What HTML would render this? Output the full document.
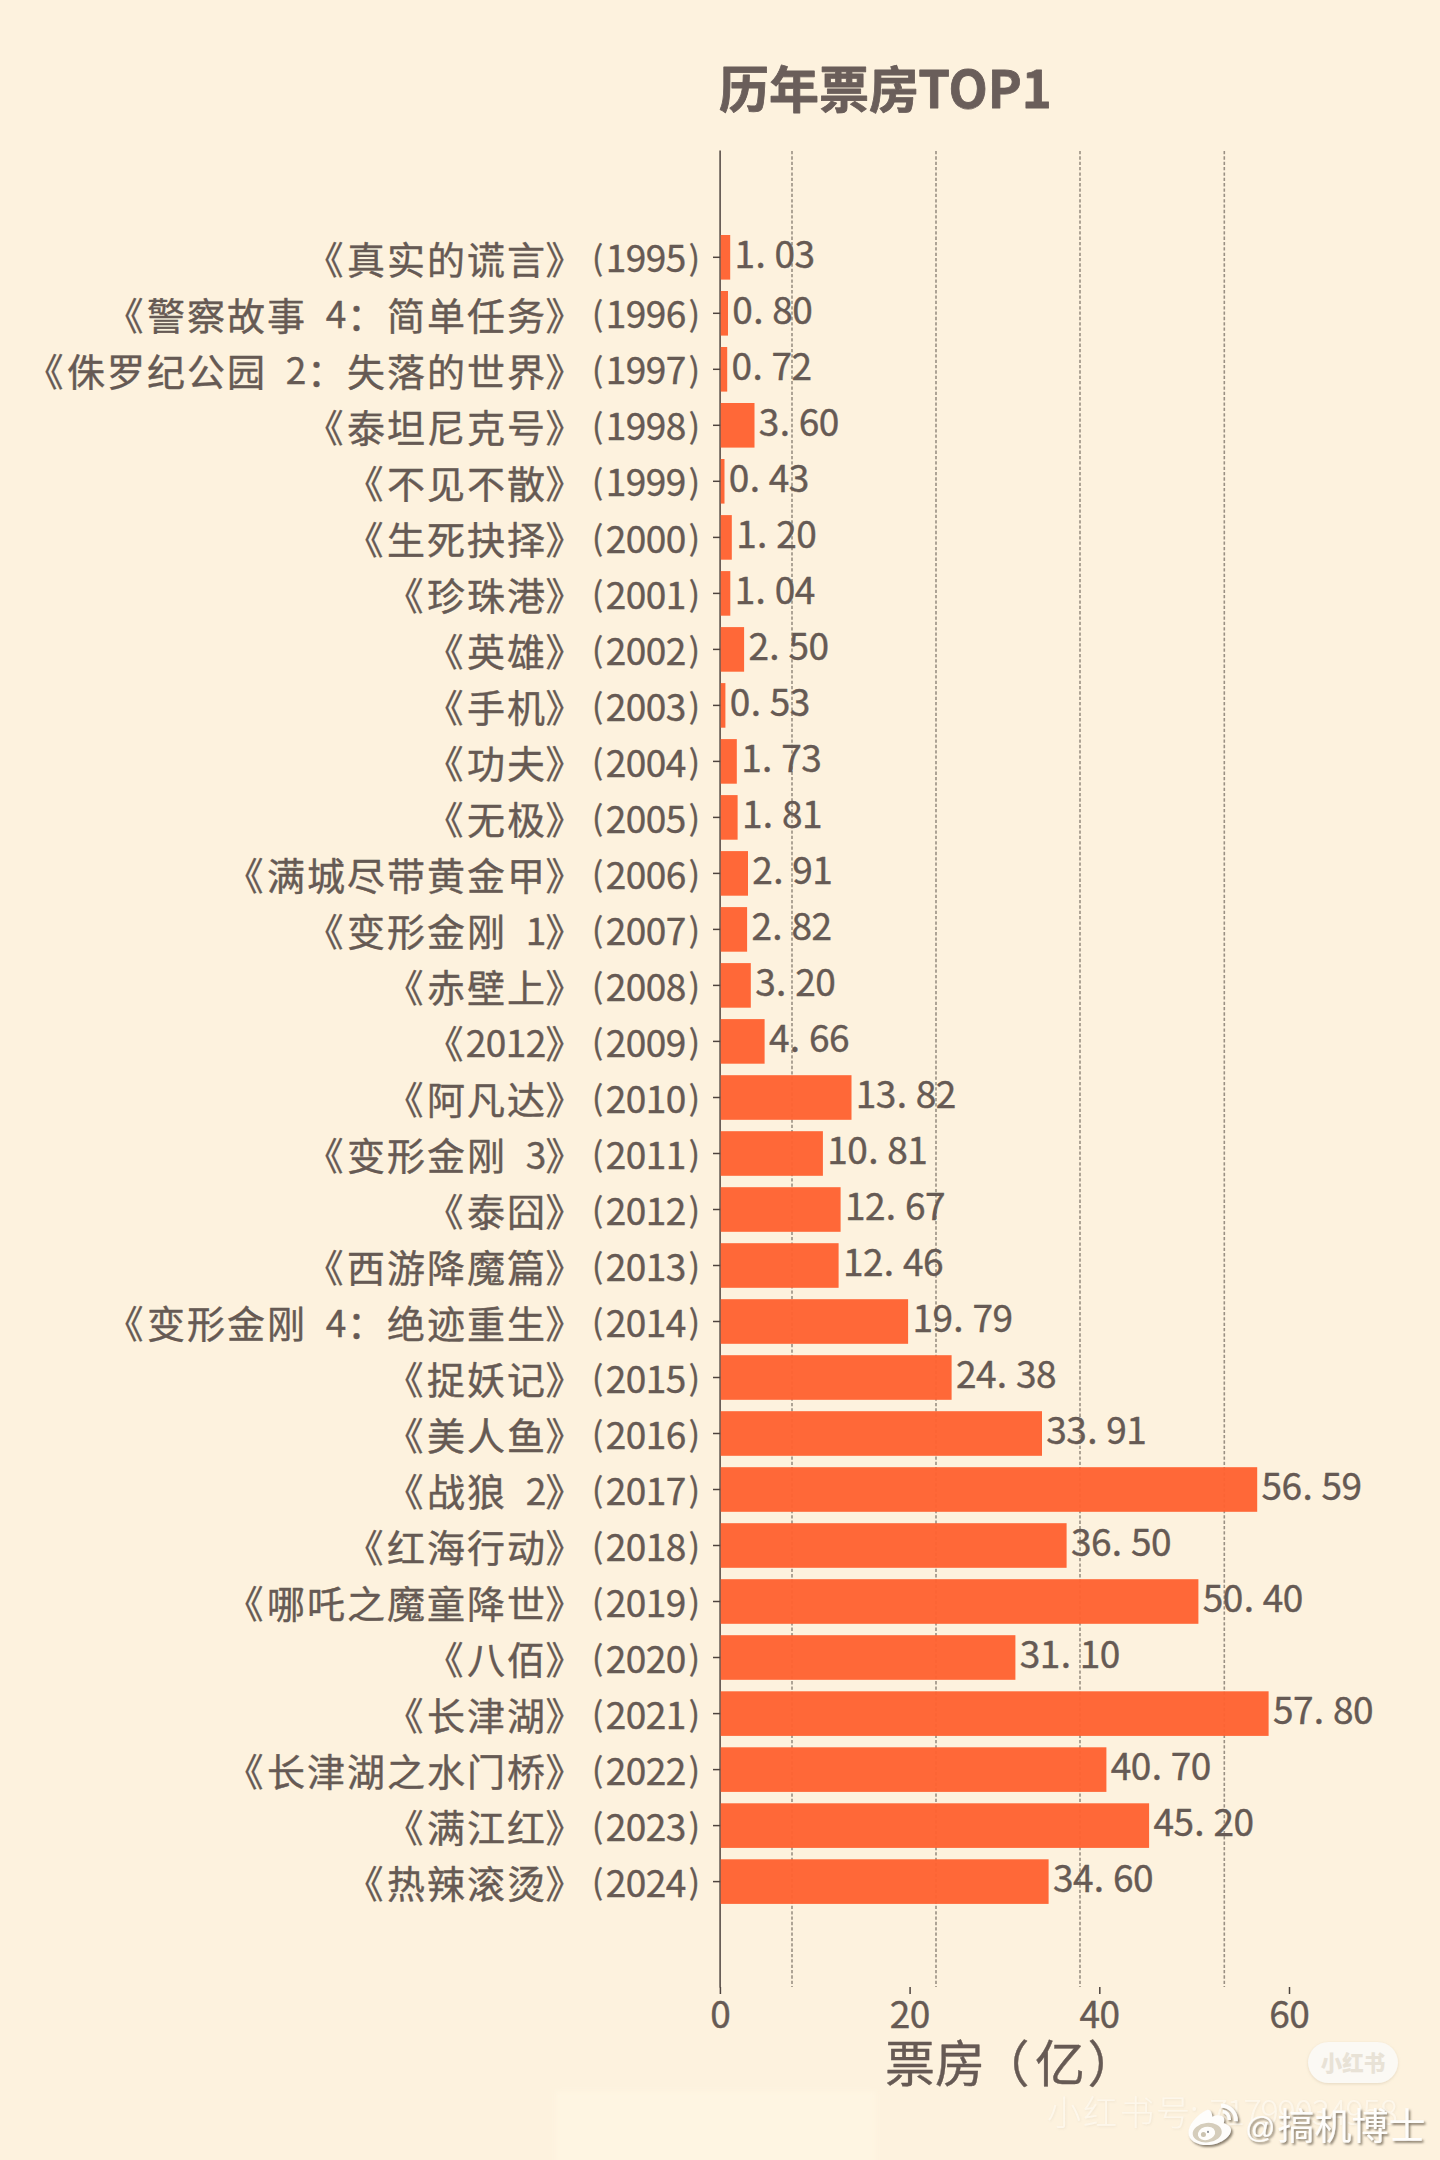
<!DOCTYPE html>
<html lang="zh-CN">
<head>
<meta charset="utf-8">
<title>历年票房TOP1</title>
<style>
html,body{margin:0;padding:0;background:#fdf2de;}
body{width:1440px;height:2160px;overflow:hidden;position:relative;}
svg{position:absolute;left:0;top:0;display:block;}
.t{font-family:"Noto Sans CJK SC","WenQuanYi Zen Hei",sans-serif;font-weight:400;}
.t .l{font-family:"Noto Sans CJK SC","Liberation Sans",sans-serif;}
.ttl{font-family:"Noto Sans CJK SC","Liberation Sans",sans-serif;}
.wm{font-family:"Noto Sans CJK SC","WenQuanYi Zen Hei",sans-serif;}
.wm .la{font-family:"Liberation Sans",sans-serif;font-weight:400;}
</style>
</head>
<body>
<svg width="1440" height="2160" viewBox="0 0 1440 2160">
<rect width="1440" height="2160" fill="#fdf2de"/>
<g stroke="#9a9083" stroke-width="1.6" stroke-dasharray="3.3 2.05">
<line x1="792.0" y1="151" x2="792.0" y2="1987"/>
<line x1="936.0" y1="151" x2="936.0" y2="1987"/>
<line x1="1080.0" y1="151" x2="1080.0" y2="1987"/>
<line x1="1224.3" y1="151" x2="1224.3" y2="1987"/>
</g>
<g stroke="#4e443f" stroke-width="1.5">
<line x1="720.1" y1="150.5" x2="720.1" y2="1987.5"/>
<line x1="713.0" y1="257.3" x2="720.4" y2="257.3"/>
<line x1="713.0" y1="313.3" x2="720.4" y2="313.3"/>
<line x1="713.0" y1="369.3" x2="720.4" y2="369.3"/>
<line x1="713.0" y1="425.3" x2="720.4" y2="425.3"/>
<line x1="713.0" y1="481.3" x2="720.4" y2="481.3"/>
<line x1="713.0" y1="537.4" x2="720.4" y2="537.4"/>
<line x1="713.0" y1="593.4" x2="720.4" y2="593.4"/>
<line x1="713.0" y1="649.4" x2="720.4" y2="649.4"/>
<line x1="713.0" y1="705.4" x2="720.4" y2="705.4"/>
<line x1="713.0" y1="761.4" x2="720.4" y2="761.4"/>
<line x1="713.0" y1="817.4" x2="720.4" y2="817.4"/>
<line x1="713.0" y1="873.4" x2="720.4" y2="873.4"/>
<line x1="713.0" y1="929.4" x2="720.4" y2="929.4"/>
<line x1="713.0" y1="985.4" x2="720.4" y2="985.4"/>
<line x1="713.0" y1="1041.4" x2="720.4" y2="1041.4"/>
<line x1="713.0" y1="1097.5" x2="720.4" y2="1097.5"/>
<line x1="713.0" y1="1153.5" x2="720.4" y2="1153.5"/>
<line x1="713.0" y1="1209.5" x2="720.4" y2="1209.5"/>
<line x1="713.0" y1="1265.5" x2="720.4" y2="1265.5"/>
<line x1="713.0" y1="1321.5" x2="720.4" y2="1321.5"/>
<line x1="713.0" y1="1377.5" x2="720.4" y2="1377.5"/>
<line x1="713.0" y1="1433.5" x2="720.4" y2="1433.5"/>
<line x1="713.0" y1="1489.5" x2="720.4" y2="1489.5"/>
<line x1="713.0" y1="1545.5" x2="720.4" y2="1545.5"/>
<line x1="713.0" y1="1601.5" x2="720.4" y2="1601.5"/>
<line x1="713.0" y1="1657.5" x2="720.4" y2="1657.5"/>
<line x1="713.0" y1="1713.6" x2="720.4" y2="1713.6"/>
<line x1="713.0" y1="1769.6" x2="720.4" y2="1769.6"/>
<line x1="713.0" y1="1825.6" x2="720.4" y2="1825.6"/>
<line x1="713.0" y1="1881.6" x2="720.4" y2="1881.6"/>
<line x1="720.4" y1="1987" x2="720.4" y2="1994"/>
<line x1="910.1" y1="1987" x2="910.1" y2="1994"/>
<line x1="1099.8" y1="1987" x2="1099.8" y2="1994"/>
<line x1="1289.5" y1="1987" x2="1289.5" y2="1994"/>
</g>
<g fill="#ff6231" fill-opacity="0.96">
<rect x="720.7" y="235.0" width="9.5" height="44.6"/>
<rect x="720.7" y="291.0" width="7.3" height="44.6"/>
<rect x="720.7" y="347.0" width="6.5" height="44.6"/>
<rect x="720.7" y="403.0" width="33.8" height="44.6"/>
<rect x="720.7" y="459.0" width="3.8" height="44.6"/>
<rect x="720.7" y="515.1" width="11.1" height="44.6"/>
<rect x="720.7" y="571.1" width="9.6" height="44.6"/>
<rect x="720.7" y="627.1" width="23.4" height="44.6"/>
<rect x="720.7" y="683.1" width="4.7" height="44.6"/>
<rect x="720.7" y="739.1" width="16.1" height="44.6"/>
<rect x="720.7" y="795.1" width="16.9" height="44.6"/>
<rect x="720.7" y="851.1" width="27.3" height="44.6"/>
<rect x="720.7" y="907.1" width="26.4" height="44.6"/>
<rect x="720.7" y="963.1" width="30.1" height="44.6"/>
<rect x="720.7" y="1019.1" width="43.9" height="44.6"/>
<rect x="720.7" y="1075.2" width="130.8" height="44.6"/>
<rect x="720.7" y="1131.2" width="102.2" height="44.6"/>
<rect x="720.7" y="1187.2" width="119.9" height="44.6"/>
<rect x="720.7" y="1243.2" width="117.9" height="44.6"/>
<rect x="720.7" y="1299.2" width="187.4" height="44.6"/>
<rect x="720.7" y="1355.2" width="230.9" height="44.6"/>
<rect x="720.7" y="1411.2" width="321.3" height="44.6"/>
<rect x="720.7" y="1467.2" width="536.5" height="44.6"/>
<rect x="720.7" y="1523.2" width="345.9" height="44.6"/>
<rect x="720.7" y="1579.2" width="477.7" height="44.6"/>
<rect x="720.7" y="1635.2" width="294.7" height="44.6"/>
<rect x="720.7" y="1691.3" width="547.9" height="44.6"/>
<rect x="720.7" y="1747.3" width="385.7" height="44.6"/>
<rect x="720.7" y="1803.3" width="428.4" height="44.6"/>
<rect x="720.7" y="1859.3" width="327.9" height="44.6"/>
</g>
<g class="t" text-anchor="middle" fill="#665a54" stroke="#665a54" stroke-width="0.4" stroke-linejoin="round">
<text x="324.5 366.0 406.0 446.0 486.0 526.0 564.5 597.6 616.0 636.0 656.0 676.0 694.4" y="273.5 273.5 273.5 273.5 273.5 273.5 273.5 269.5 272.4 272.4 272.4 272.4 269.5" font-size="38">《真实的谎言》<tspan class="l" font-size="33.2">(</tspan><tspan class="l" font-size="37">1995</tspan><tspan class="l" font-size="33.2">)</tspan></text>
<text x="124.5 166.0 206.0 246.0 286.0 316.0 336.0 366.0 406.0 446.0 486.0 526.0 564.5 597.6 616.0 636.0 656.0 676.0 694.4" y="329.5 329.5 329.5 329.5 329.5 328.4 328.4 329.5 329.5 329.5 329.5 329.5 329.5 325.5 328.4 328.4 328.4 328.4 325.5" font-size="38">《警察故事<tspan class="l" font-size="37"> 4</tspan>：简单任务》<tspan class="l" font-size="33.2">(</tspan><tspan class="l" font-size="37">1996</tspan><tspan class="l" font-size="33.2">)</tspan></text>
<text x="44.5 86.0 126.0 166.0 206.0 246.0 276.0 296.0 326.0 366.0 406.0 446.0 486.0 526.0 564.5 597.6 616.0 636.0 656.0 676.0 694.4" y="385.5 385.5 385.5 385.5 385.5 385.5 384.4 384.4 385.5 385.5 385.5 385.5 385.5 385.5 385.5 381.5 384.4 384.4 384.4 384.4 381.5" font-size="38">《侏罗纪公园<tspan class="l" font-size="37"> 2</tspan>：失落的世界》<tspan class="l" font-size="33.2">(</tspan><tspan class="l" font-size="37">1997</tspan><tspan class="l" font-size="33.2">)</tspan></text>
<text x="324.5 366.0 406.0 446.0 486.0 526.0 564.5 597.6 616.0 636.0 656.0 676.0 694.4" y="441.5 441.5 441.5 441.5 441.5 441.5 441.5 437.5 440.4 440.4 440.4 440.4 437.5" font-size="38">《泰坦尼克号》<tspan class="l" font-size="33.2">(</tspan><tspan class="l" font-size="37">1998</tspan><tspan class="l" font-size="33.2">)</tspan></text>
<text x="364.5 406.0 446.0 486.0 526.0 564.5 597.6 616.0 636.0 656.0 676.0 694.4" y="497.5 497.5 497.5 497.5 497.5 497.5 493.5 496.4 496.4 496.4 496.4 493.5" font-size="38">《不见不散》<tspan class="l" font-size="33.2">(</tspan><tspan class="l" font-size="37">1999</tspan><tspan class="l" font-size="33.2">)</tspan></text>
<text x="364.5 406.0 446.0 486.0 526.0 564.5 597.6 616.0 636.0 656.0 676.0 694.4" y="553.6 553.6 553.6 553.6 553.6 553.6 549.6 552.5 552.5 552.5 552.5 549.6" font-size="38">《生死抉择》<tspan class="l" font-size="33.2">(</tspan><tspan class="l" font-size="37">2000</tspan><tspan class="l" font-size="33.2">)</tspan></text>
<text x="404.5 446.0 486.0 526.0 564.5 597.6 616.0 636.0 656.0 676.0 694.4" y="609.6 609.6 609.6 609.6 609.6 605.6 608.5 608.5 608.5 608.5 605.6" font-size="38">《珍珠港》<tspan class="l" font-size="33.2">(</tspan><tspan class="l" font-size="37">2001</tspan><tspan class="l" font-size="33.2">)</tspan></text>
<text x="444.5 486.0 526.0 564.5 597.6 616.0 636.0 656.0 676.0 694.4" y="665.6 665.6 665.6 665.6 661.6 664.5 664.5 664.5 664.5 661.6" font-size="38">《英雄》<tspan class="l" font-size="33.2">(</tspan><tspan class="l" font-size="37">2002</tspan><tspan class="l" font-size="33.2">)</tspan></text>
<text x="444.5 486.0 526.0 564.5 597.6 616.0 636.0 656.0 676.0 694.4" y="721.6 721.6 721.6 721.6 717.6 720.5 720.5 720.5 720.5 717.6" font-size="38">《手机》<tspan class="l" font-size="33.2">(</tspan><tspan class="l" font-size="37">2003</tspan><tspan class="l" font-size="33.2">)</tspan></text>
<text x="444.5 486.0 526.0 564.5 597.6 616.0 636.0 656.0 676.0 694.4" y="777.6 777.6 777.6 777.6 773.6 776.5 776.5 776.5 776.5 773.6" font-size="38">《功夫》<tspan class="l" font-size="33.2">(</tspan><tspan class="l" font-size="37">2004</tspan><tspan class="l" font-size="33.2">)</tspan></text>
<text x="444.5 486.0 526.0 564.5 597.6 616.0 636.0 656.0 676.0 694.4" y="833.6 833.6 833.6 833.6 829.6 832.5 832.5 832.5 832.5 829.6" font-size="38">《无极》<tspan class="l" font-size="33.2">(</tspan><tspan class="l" font-size="37">2005</tspan><tspan class="l" font-size="33.2">)</tspan></text>
<text x="244.5 286.0 326.0 366.0 406.0 446.0 486.0 526.0 564.5 597.6 616.0 636.0 656.0 676.0 694.4" y="889.6 889.6 889.6 889.6 889.6 889.6 889.6 889.6 889.6 885.6 888.5 888.5 888.5 888.5 885.6" font-size="38">《满城尽带黄金甲》<tspan class="l" font-size="33.2">(</tspan><tspan class="l" font-size="37">2006</tspan><tspan class="l" font-size="33.2">)</tspan></text>
<text x="324.5 366.0 406.0 446.0 486.0 516.0 536.0 564.5 597.6 616.0 636.0 656.0 676.0 694.4" y="945.6 945.6 945.6 945.6 945.6 944.5 944.5 945.6 941.6 944.5 944.5 944.5 944.5 941.6" font-size="38">《变形金刚<tspan class="l" font-size="37"> 1</tspan>》<tspan class="l" font-size="33.2">(</tspan><tspan class="l" font-size="37">2007</tspan><tspan class="l" font-size="33.2">)</tspan></text>
<text x="404.5 446.0 486.0 526.0 564.5 597.6 616.0 636.0 656.0 676.0 694.4" y="1001.6 1001.6 1001.6 1001.6 1001.6 997.6 1000.5 1000.5 1000.5 1000.5 997.6" font-size="38">《赤壁上》<tspan class="l" font-size="33.2">(</tspan><tspan class="l" font-size="37">2008</tspan><tspan class="l" font-size="33.2">)</tspan></text>
<text x="444.5 476.0 496.0 516.0 536.0 564.5 597.6 616.0 636.0 656.0 676.0 694.4" y="1057.6 1056.5 1056.5 1056.5 1056.5 1057.6 1053.6 1056.5 1056.5 1056.5 1056.5 1053.6" font-size="38">《<tspan class="l" font-size="37">2012</tspan>》<tspan class="l" font-size="33.2">(</tspan><tspan class="l" font-size="37">2009</tspan><tspan class="l" font-size="33.2">)</tspan></text>
<text x="404.5 446.0 486.0 526.0 564.5 597.6 616.0 636.0 656.0 676.0 694.4" y="1113.7 1113.7 1113.7 1113.7 1113.7 1109.6 1112.5 1112.5 1112.5 1112.5 1109.6" font-size="38">《阿凡达》<tspan class="l" font-size="33.2">(</tspan><tspan class="l" font-size="37">2010</tspan><tspan class="l" font-size="33.2">)</tspan></text>
<text x="324.5 366.0 406.0 446.0 486.0 516.0 536.0 564.5 597.6 616.0 636.0 656.0 676.0 694.4" y="1169.7 1169.7 1169.7 1169.7 1169.7 1168.6 1168.6 1169.7 1165.7 1168.6 1168.6 1168.6 1168.6 1165.7" font-size="38">《变形金刚<tspan class="l" font-size="37"> 3</tspan>》<tspan class="l" font-size="33.2">(</tspan><tspan class="l" font-size="37">2011</tspan><tspan class="l" font-size="33.2">)</tspan></text>
<text x="444.5 486.0 526.0 564.5 597.6 616.0 636.0 656.0 676.0 694.4" y="1225.7 1225.7 1225.7 1225.7 1221.7 1224.6 1224.6 1224.6 1224.6 1221.7" font-size="38">《泰囧》<tspan class="l" font-size="33.2">(</tspan><tspan class="l" font-size="37">2012</tspan><tspan class="l" font-size="33.2">)</tspan></text>
<text x="324.5 366.0 406.0 446.0 486.0 526.0 564.5 597.6 616.0 636.0 656.0 676.0 694.4" y="1281.7 1281.7 1281.7 1281.7 1281.7 1281.7 1281.7 1277.7 1280.6 1280.6 1280.6 1280.6 1277.7" font-size="38">《西游降魔篇》<tspan class="l" font-size="33.2">(</tspan><tspan class="l" font-size="37">2013</tspan><tspan class="l" font-size="33.2">)</tspan></text>
<text x="124.5 166.0 206.0 246.0 286.0 316.0 336.0 366.0 406.0 446.0 486.0 526.0 564.5 597.6 616.0 636.0 656.0 676.0 694.4" y="1337.7 1337.7 1337.7 1337.7 1337.7 1336.6 1336.6 1337.7 1337.7 1337.7 1337.7 1337.7 1337.7 1333.7 1336.6 1336.6 1336.6 1336.6 1333.7" font-size="38">《变形金刚<tspan class="l" font-size="37"> 4</tspan>：绝迹重生》<tspan class="l" font-size="33.2">(</tspan><tspan class="l" font-size="37">2014</tspan><tspan class="l" font-size="33.2">)</tspan></text>
<text x="404.5 446.0 486.0 526.0 564.5 597.6 616.0 636.0 656.0 676.0 694.4" y="1393.7 1393.7 1393.7 1393.7 1393.7 1389.7 1392.6 1392.6 1392.6 1392.6 1389.7" font-size="38">《捉妖记》<tspan class="l" font-size="33.2">(</tspan><tspan class="l" font-size="37">2015</tspan><tspan class="l" font-size="33.2">)</tspan></text>
<text x="404.5 446.0 486.0 526.0 564.5 597.6 616.0 636.0 656.0 676.0 694.4" y="1449.7 1449.7 1449.7 1449.7 1449.7 1445.7 1448.6 1448.6 1448.6 1448.6 1445.7" font-size="38">《美人鱼》<tspan class="l" font-size="33.2">(</tspan><tspan class="l" font-size="37">2016</tspan><tspan class="l" font-size="33.2">)</tspan></text>
<text x="404.5 446.0 486.0 516.0 536.0 564.5 597.6 616.0 636.0 656.0 676.0 694.4" y="1505.7 1505.7 1505.7 1504.6 1504.6 1505.7 1501.7 1504.6 1504.6 1504.6 1504.6 1501.7" font-size="38">《战狼<tspan class="l" font-size="37"> 2</tspan>》<tspan class="l" font-size="33.2">(</tspan><tspan class="l" font-size="37">2017</tspan><tspan class="l" font-size="33.2">)</tspan></text>
<text x="364.5 406.0 446.0 486.0 526.0 564.5 597.6 616.0 636.0 656.0 676.0 694.4" y="1561.7 1561.7 1561.7 1561.7 1561.7 1561.7 1557.7 1560.6 1560.6 1560.6 1560.6 1557.7" font-size="38">《红海行动》<tspan class="l" font-size="33.2">(</tspan><tspan class="l" font-size="37">2018</tspan><tspan class="l" font-size="33.2">)</tspan></text>
<text x="244.5 286.0 326.0 366.0 406.0 446.0 486.0 526.0 564.5 597.6 616.0 636.0 656.0 676.0 694.4" y="1617.7 1617.7 1617.7 1617.7 1617.7 1617.7 1617.7 1617.7 1617.7 1613.7 1616.6 1616.6 1616.6 1616.6 1613.7" font-size="38">《哪吒之魔童降世》<tspan class="l" font-size="33.2">(</tspan><tspan class="l" font-size="37">2019</tspan><tspan class="l" font-size="33.2">)</tspan></text>
<text x="444.5 486.0 526.0 564.5 597.6 616.0 636.0 656.0 676.0 694.4" y="1673.8 1673.8 1673.8 1673.8 1669.7 1672.6 1672.6 1672.6 1672.6 1669.7" font-size="38">《八佰》<tspan class="l" font-size="33.2">(</tspan><tspan class="l" font-size="37">2020</tspan><tspan class="l" font-size="33.2">)</tspan></text>
<text x="404.5 446.0 486.0 526.0 564.5 597.6 616.0 636.0 656.0 676.0 694.4" y="1729.8 1729.8 1729.8 1729.8 1729.8 1725.8 1728.7 1728.7 1728.7 1728.7 1725.8" font-size="38">《长津湖》<tspan class="l" font-size="33.2">(</tspan><tspan class="l" font-size="37">2021</tspan><tspan class="l" font-size="33.2">)</tspan></text>
<text x="244.5 286.0 326.0 366.0 406.0 446.0 486.0 526.0 564.5 597.6 616.0 636.0 656.0 676.0 694.4" y="1785.8 1785.8 1785.8 1785.8 1785.8 1785.8 1785.8 1785.8 1785.8 1781.8 1784.7 1784.7 1784.7 1784.7 1781.8" font-size="38">《长津湖之水门桥》<tspan class="l" font-size="33.2">(</tspan><tspan class="l" font-size="37">2022</tspan><tspan class="l" font-size="33.2">)</tspan></text>
<text x="404.5 446.0 486.0 526.0 564.5 597.6 616.0 636.0 656.0 676.0 694.4" y="1841.8 1841.8 1841.8 1841.8 1841.8 1837.8 1840.7 1840.7 1840.7 1840.7 1837.8" font-size="38">《满江红》<tspan class="l" font-size="33.2">(</tspan><tspan class="l" font-size="37">2023</tspan><tspan class="l" font-size="33.2">)</tspan></text>
<text x="364.5 406.0 446.0 486.0 526.0 564.5 597.6 616.0 636.0 656.0 676.0 694.4" y="1897.8 1897.8 1897.8 1897.8 1897.8 1897.8 1893.8 1896.7 1896.7 1896.7 1896.7 1893.8" font-size="38">《热辣滚烫》<tspan class="l" font-size="33.2">(</tspan><tspan class="l" font-size="37">2024</tspan><tspan class="l" font-size="33.2">)</tspan></text>
<text x="744.8 760.6 784.8 804.8" y="267.7" font-size="38"><tspan class="l" font-size="37">1.03</tspan></text>
<text x="742.6 758.4 782.6 802.6" y="323.7" font-size="38"><tspan class="l" font-size="37">0.80</tspan></text>
<text x="741.8 757.6 781.8 801.8" y="379.7" font-size="38"><tspan class="l" font-size="37">0.72</tspan></text>
<text x="769.1 784.9 809.1 829.1" y="435.7" font-size="38"><tspan class="l" font-size="37">3.60</tspan></text>
<text x="739.1 754.9 779.1 799.1" y="491.7" font-size="38"><tspan class="l" font-size="37">0.43</tspan></text>
<text x="746.4 762.2 786.4 806.4" y="547.8" font-size="38"><tspan class="l" font-size="37">1.20</tspan></text>
<text x="744.9 760.7 784.9 804.9" y="603.8" font-size="38"><tspan class="l" font-size="37">1.04</tspan></text>
<text x="758.7 774.5 798.7 818.7" y="659.8" font-size="38"><tspan class="l" font-size="37">2.50</tspan></text>
<text x="740.0 755.8 780.0 800.0" y="715.8" font-size="38"><tspan class="l" font-size="37">0.53</tspan></text>
<text x="751.4 767.2 791.4 811.4" y="771.8" font-size="38"><tspan class="l" font-size="37">1.73</tspan></text>
<text x="752.2 768.0 792.2 812.2" y="827.8" font-size="38"><tspan class="l" font-size="37">1.81</tspan></text>
<text x="762.6 778.4 802.6 822.6" y="883.8" font-size="38"><tspan class="l" font-size="37">2.91</tspan></text>
<text x="761.7 777.5 801.7 821.7" y="939.8" font-size="38"><tspan class="l" font-size="37">2.82</tspan></text>
<text x="765.4 781.2 805.4 825.4" y="995.8" font-size="38"><tspan class="l" font-size="37">3.20</tspan></text>
<text x="779.2 795.0 819.2 839.2" y="1051.8" font-size="38"><tspan class="l" font-size="37">4.66</tspan></text>
<text x="866.1 886.1 901.9 926.1 946.1" y="1107.9" font-size="38"><tspan class="l" font-size="37">13.82</tspan></text>
<text x="837.5 857.5 873.3 897.5 917.5" y="1163.9" font-size="38"><tspan class="l" font-size="37">10.81</tspan></text>
<text x="855.2 875.2 891.0 915.2 935.2" y="1219.9" font-size="38"><tspan class="l" font-size="37">12.67</tspan></text>
<text x="853.2 873.2 889.0 913.2 933.2" y="1275.9" font-size="38"><tspan class="l" font-size="37">12.46</tspan></text>
<text x="922.7 942.7 958.5 982.7 1002.7" y="1331.9" font-size="38"><tspan class="l" font-size="37">19.79</tspan></text>
<text x="966.2 986.2 1002.0 1026.2 1046.2" y="1387.9" font-size="38"><tspan class="l" font-size="37">24.38</tspan></text>
<text x="1056.6 1076.6 1092.4 1116.6 1136.6" y="1443.9" font-size="38"><tspan class="l" font-size="37">33.91</tspan></text>
<text x="1271.8 1291.8 1307.6 1331.8 1351.8" y="1499.9" font-size="38"><tspan class="l" font-size="37">56.59</tspan></text>
<text x="1081.2 1101.2 1117.0 1141.2 1161.2" y="1555.9" font-size="38"><tspan class="l" font-size="37">36.50</tspan></text>
<text x="1213.0 1233.0 1248.8 1273.0 1293.0" y="1611.9" font-size="38"><tspan class="l" font-size="37">50.40</tspan></text>
<text x="1030.0 1050.0 1065.8 1090.0 1110.0" y="1668.0" font-size="38"><tspan class="l" font-size="37">31.10</tspan></text>
<text x="1283.2 1303.2 1319.0 1343.2 1363.2" y="1724.0" font-size="38"><tspan class="l" font-size="37">57.80</tspan></text>
<text x="1121.0 1141.0 1156.8 1181.0 1201.0" y="1780.0" font-size="38"><tspan class="l" font-size="37">40.70</tspan></text>
<text x="1163.7 1183.7 1199.5 1223.7 1243.7" y="1836.0" font-size="38"><tspan class="l" font-size="37">45.20</tspan></text>
<text x="1063.2 1083.2 1099.0 1123.2 1143.2" y="1892.0" font-size="38"><tspan class="l" font-size="37">34.60</tspan></text>
<text x="720.4" y="2028.0" font-size="38"><tspan class="l" font-size="37">0</tspan></text>
<text x="900.1 920.1" y="2028.0" font-size="38"><tspan class="l" font-size="37">20</tspan></text>
<text x="1089.8 1109.8" y="2028.0" font-size="38"><tspan class="l" font-size="37">40</tspan></text>
<text x="1279.5 1299.5" y="2028.0" font-size="38"><tspan class="l" font-size="37">60</tspan></text>
<text x="910.0 960.0 1004.5 1060.0 1112.5" y="2081.5" font-size="50">票房（亿）</text>
</g>
<text class="ttl" x="719" y="107.5" font-size="50" font-weight="700" fill="#6a5e5a" stroke="#6a5e5a" stroke-width="0.8" stroke-linejoin="round">历年票房<tspan font-size="51" dx="-0.8" dy="0.3">TOP1</tspan></text>
<defs>
<filter id="ds" x="-10%" y="-20%" width="120%" height="150%"><feDropShadow dx="1.7" dy="1.9" stdDeviation="0.9" flood-color="#5e5544" flood-opacity="0.75"/></filter>
<filter id="ds2" x="-10%" y="-20%" width="120%" height="150%"><feDropShadow dx="0.8" dy="1" stdDeviation="0.8" flood-color="#8a7f68" flood-opacity="0.28"/></filter>
<filter id="ds3" x="-10%" y="-30%" width="120%" height="170%"><feDropShadow dx="0" dy="1" stdDeviation="1.6" flood-color="#b9a98a" flood-opacity="0.35"/></filter>
<filter id="bl" x="-5%" y="-20%" width="110%" height="140%"><feGaussianBlur stdDeviation="2.5"/></filter>
</defs>
<rect x="556" y="2091" width="320" height="75" fill="#fef5e2" filter="url(#bl)"/>
<g class="wm"><rect x="1308" y="2042" width="90" height="41" rx="20.5" fill="#fbf9f4" filter="url(#ds3)"/>
<text x="1353" y="2070.5" text-anchor="middle" font-size="21.5" font-weight="900" fill="#e8e2d6">小红书</text></g>
<text class="wm" x="1047.0 1083.0 1120.0 1156.0 1190.0 1209.5 1226.5 1243.5 1260.5 1277.5 1294.5 1311.5 1328.5 1345.5 1362.5 1379.5" y="2125" font-size="34" font-weight="300" fill="#ffffff" opacity="0.42" filter="url(#ds2)">小红书号:<tspan font-size="34">71799034958</tspan></text>
<g filter="url(#ds)">
<g transform="translate(1180,2095) scale(0.048611)">
<path fill="#fefdfb" d="M175 780C175 620 330 420 560 305C620 290 660 360 665 450C740 410 850 400 900 470C920 520 905 560 900 580C990 610 1050 660 1050 720C1050 860 820 1030 560 1030C330 1030 175 920 175 780Z"/>
<ellipse cx="560" cy="775" rx="300" ry="200" transform="rotate(-6 560 775)" fill="#d5cdbb"/>
<ellipse cx="545" cy="790" rx="180" ry="135" transform="rotate(-15 545 790)" fill="#fefdfb"/>
<circle cx="482" cy="812" r="52" fill="#cbc3b0"/>
<circle cx="576" cy="760" r="22" fill="#8e9196"/>
<path fill="none" stroke="#fefdfb" stroke-width="80" d="M843 222A298 298 0 0 1 1150 538"/>
<path fill="none" stroke="#fefdfb" stroke-width="70" d="M880 340A140 170 0 0 1 1015 514"/>
</g>
<text class="wm" x="1245 1277.5 1314.5 1351.5 1388.5" y="2138.3 2139.8" font-size="37" font-weight="400" fill="#fefdfb"><tspan class="la" font-size="30">@</tspan>搞机博士</text>
</g>
</svg>
</body>
</html>
